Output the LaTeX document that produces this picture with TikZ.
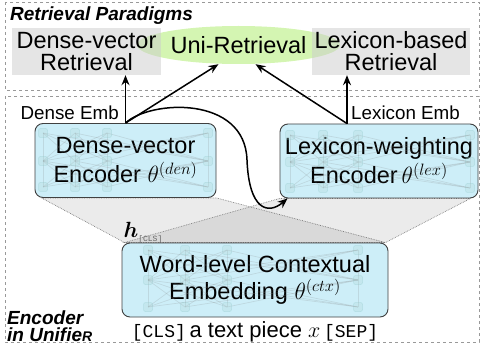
\documentclass[tikz,border=0pt]{standalone}
\usepackage{fix-cm}
\usepackage{bm}
\usepackage{fontspec}
\setmainfont{Liberation Sans}
\setmonofont{Liberation Mono}
\usepackage{xcolor}
\usepackage{tikz}
\usetikzlibrary{shapes.geometric, arrows.meta, positioning, backgrounds}
\definecolor{encfill}{RGB}{205,238,248}
\definecolor{unifill}{RGB}{212,245,178}
\tikzset{
    panel/.style={draw=gray!80, dashed, line width=0.6pt},
    retbox/.style={rectangle, fill=gray!40, fill opacity=0.5, text opacity=1, minimum height=47pt, inner sep=0pt, align=center, font=\fontsize{23.5}{22}\selectfont},
    unibox/.style={ellipse, fill=unifill, minimum width=203pt, minimum height=38pt, inner sep=0pt, font=\fontsize{23.5}{20}\selectfont},
    encoder/.style={rectangle, rounded corners=8pt, draw=black!75, line width=0.9pt, fill=encfill, minimum height=74pt, inner sep=0pt, align=center, font=\fontsize{23.5}{29}\selectfont},
    funnel/.style={draw=gray, densely dotted, line width=0.7pt, fill=black, fill opacity=0.08},
    arrow/.style={-{Stealth[length=10pt,width=8pt]}, line width=1.5pt},
    tag/.style={inner sep=0pt, font=\fontsize{18.8}{20}\selectfont},
    title/.style={inner sep=0pt, align=left, font=\fontsize{19}{17}\selectfont\bfseries\itshape},
    unit/.style={rounded corners=2pt, fill=teal!30, draw=teal!50, line width=0.5pt, opacity=0.3},
    wire/.style={draw=gray, line width=0.7pt, opacity=0.2}
}
% faint cells and links inside an encoder
\newcommand{\cellnet}[4]{%
  \foreach \ca in {#1} \foreach \cb in {#1} {
    \draw[wire] (\ca,#2) -- (\cb,#3);
    \draw[wire] (\ca,#3) -- (\cb,#4);
  }
  \foreach \ca in {#1} \foreach \cy in {#2,#3,#4}
    \filldraw[unit] (\ca-4.5,\cy-4.5) rectangle ++(9,9);
}

\begin{document}
\begin{tikzpicture}[x=1pt, y=-1pt]
    \useasboundingbox (0,0) rectangle (481,347);

    % retrieval paradigms
    \node (paradigms) [title, anchor=base west] at (10,21) {Retrieval Paradigms};
    \node (uni) [unibox] at (238.5,45) {Uni-Retrieval};
    \node (denret) [retbox, minimum width=149pt] at (86.5,51.5) {Dense-vector\\Retrieval};
    \node (lexret) [retbox, minimum width=158pt] at (391,51.5) {Lexicon-based\\Retrieval};

    % encoders
    \node (denenc) [encoder, minimum width=181pt] at (125.5,160.5) {Dense-vector\\Encoder $\theta^{(den)}$};
    \node (lexenc) [encoder, minimum width=198pt] at (379,161) {Lexicon-weighting\\Encoder\,$\theta^{(lex)}$};
    \node (ctxenc) [encoder, minimum width=266pt, font=\fontsize{23.5}{27}\selectfont] at (255,280) {Word-level Contextual\\Embedding $\theta^{(ctx)}$};

    \cellnet{43,75,107,208}{133}{161}{187}
    \cellnet{290,323,358,470}{135}{162}{188}
    \cellnet{148,185,227,358}{250}{280}{307}

    \node (denemb) [tag, anchor=east] at (119,113) {Dense Emb};
    \node (lexemb) [tag, anchor=west] at (351,113) {Lexicon Emb};
    \node (hcls) [inner sep=0pt, font=\fontsize{22}{22}\selectfont] at (143,233) {$\bm{h}$\raisebox{-4pt}{\fontsize{8}{8}\selectfont\ttfamily\textcolor{black!60}{[CLS]}}};
    \node (input) [inner sep=0pt, font=\fontsize{22}{22}\selectfont] at (255,332) {{\fontsize{18}{18}\selectfont\ttfamily [CLS]}\,a text piece $x$\,{\fontsize{18}{18}\selectfont\ttfamily [SEP]}};
    \node (unifier) [title, anchor=south west] at (7,341.5) {Encoder\\in Unifie{\fontsize{14}{14}\selectfont R}};

    % links
    \draw[arrow] (denenc.north) -- (denenc.north |- denret.south);
    \draw[arrow] (denenc.north) -- ([xshift=-20pt]uni.south);
    \draw[arrow] ([xshift=-32pt]lexenc.north) -- ([xshift=17pt]uni.south);
    \draw[arrow] ([xshift=-32pt]lexenc.north) -- ([xshift=-32pt]lexenc.north |- lexret.south);
    \draw[arrow] (denenc.north) .. controls (150,100) and (245,95) .. (247,160)
        .. controls (249,210) and (268,215) .. ([xshift=8pt]lexenc.south west);

    \begin{scope}[on background layer]
        \draw[panel] (5,2) rectangle (479,90);
        \draw[panel] (5,96) rectangle (479,342);
        \draw[funnel] ([xshift=7pt]denenc.south west) -- (denenc.south east) -- ([xshift=-3pt]ctxenc.north east) -- ([xshift=3pt]ctxenc.north west) -- cycle;
        \draw[funnel] ([xshift=-8pt]lexenc.south east) -- (lexenc.south west) -- ([xshift=3pt]ctxenc.north west) -- ([xshift=-3pt]ctxenc.north east) -- cycle;
    \end{scope}
\end{tikzpicture}
\end{document}
